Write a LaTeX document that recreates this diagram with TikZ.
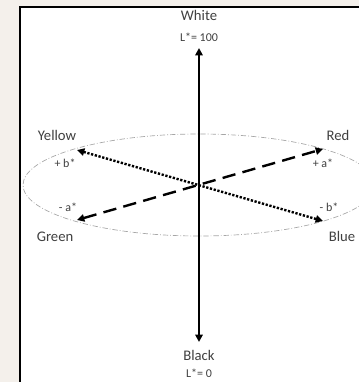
\documentclass[tikz,border=0pt]{standalone}
\usepackage{fontspec}
\setmainfont{Carlito}
\usepackage{tikz}
\usetikzlibrary{arrows.meta}

\definecolor{paper}{HTML}{F4F0EB}
\definecolor{ink}{HTML}{404040}

\begin{document}
\begin{tikzpicture}[x=0.75pt, y=-0.75pt,
    axis/.style={line width=1.8pt, {Triangle[length=5.5pt,width=5.5pt]}-{Triangle[length=5.5pt,width=5.5pt]}},
    big/.style={ink, font=\fontsize{11}{13}\selectfont},
    small/.style={ink, font=\fontsize{9}{11}\selectfont}]
  \useasboundingbox[fill=paper] (0,0) rectangle (359,382);
  \fill[white] (20,7) rectangle (359,382);
  \draw[line width=1.8pt] (20,382) -- (20,7) -- (359,7);

  % hue circle
  \draw[gray!70, line width=0.5pt, dash pattern=on 4pt off 1.5pt on 0.6pt off 1.5pt]
    (199,185) ellipse [x radius=176, y radius=51];

  % axis ends
  \coordinate (o)      at (199,185);
  \coordinate (top)    at (199,48);
  \coordinate (bottom) at (199,342);
  \coordinate (red)    at (323,149);
  \coordinate (green)  at (77,220);
  \coordinate (yellow) at (77,150);
  \coordinate (blue)   at (323,221);

  \draw[axis] (bottom) -- (top);
  \draw[axis, dash pattern=on 10pt off 5.5pt] (green) -- (red);
  \draw[axis, dash pattern=on 1.7pt off 1.2pt] (yellow) -- (blue);

  % L* axis labels
  \node[big]   (white)  at (199,15)  {White};
  \node[small] (lmax)   at (199,37)  {L*= 100};
  \node[big]   (black)  at (199,355) {Black};
  \node[small] (lmin)   at (199,373) {L*= 0};

  % a* and b* labels
  \node[big]   (yellowl) at (57,135)  {Yellow};
  \node[small] (bplus)   at (65,163)  {+ b*};
  \node[small] (aminus)  at (68,207)  {- a*};
  \node[big]   (greenl)  at (55,237)  {Green};
  \node[big]   (redl)    at (338,135) {Red};
  \node[small] (aplus)   at (323,163) {+ a*};
  \node[small] (bminus)  at (329,207) {- b*};
  \node[big]   (bluel)   at (342,236) {Blue};
\end{tikzpicture}
\end{document}
